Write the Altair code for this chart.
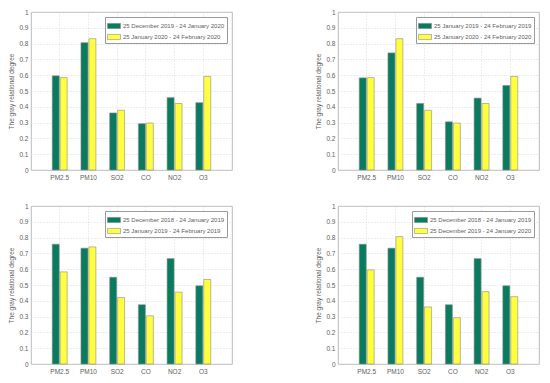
import altair as alt
import pandas as pd

pollutants = ["PM2.5", "PM10", "SO2", "CO", "NO2", "O3"]

p_dec18_jan19 = "25 December 2018 - 24 January 2019"
p_jan19_feb19 = "25 January 2019 - 24 February 2019"
p_dec19_jan20 = "25 December 2019 - 24 January 2020"
p_jan20_feb20 = "25 January 2020 - 24 February 2020"

dec18_jan19 = [0.758, 0.733, 0.549, 0.375, 0.667, 0.495]
jan19_feb19 = [0.583, 0.741, 0.421, 0.305, 0.455, 0.535]
dec19_jan20 = [0.596, 0.806, 0.361, 0.293, 0.458, 0.426]
jan20_feb20 = [0.585, 0.831, 0.378, 0.297, 0.421, 0.592]

y_ticks = [0, 0.1, 0.2, 0.3, 0.4, 0.5, 0.6, 0.7, 0.8, 0.9, 1]

GREEN = "#0a7b5f"
YELLOW = "#ffff40"
TEXT = "#5e5e5e"
GRID = "#d2d2d2"
FONT = "Liberation Sans"

W, H = 201, 158


def panel(s1, v1, s2, v2):
    df = pd.DataFrame({
        "pollutant": pollutants * 2,
        "period": [s1] * 6 + [s2] * 6,
        "k": [0] * 6 + [1] * 6,
        "value": v1 + v2,
    })
    return alt.Chart(df).mark_bar(stroke="#8a8a8a", strokeWidth=0.6, opacity=1).encode(
        x=alt.X("pollutant:N", sort=pollutants,
                scale=alt.Scale(paddingInner=0.48, paddingOuter=0.74),
                axis=alt.Axis(title=None, labelAngle=0, grid=True, bandPosition=0.5,
                              ticks=False, domain=False, labelPadding=4,
                              gridColor=GRID, gridDash=[1, 2], gridWidth=0.8)),
        xOffset=alt.XOffset("k:O", scale=alt.Scale(paddingInner=0.12, paddingOuter=0)),
        y=alt.Y("value:Q", scale=alt.Scale(domain=[0, 1], nice=False),
                axis=alt.Axis(values=y_ticks, format=".1~f", title="The gray relational degree",
                              ticks=False, domain=False, labelPadding=3, titlePadding=4,
                              gridColor=GRID, gridDash=[1, 2], gridWidth=0.8)),
        color=alt.Color("period:N",
                        scale=alt.Scale(domain=[s1, s2], range=[GREEN, YELLOW]),
                        sort=[s1, s2],
                        legend=alt.Legend(title=None, orient="top-right", offset=5,
                                          strokeColor="#9a9a9a", fillColor="white",
                                          padding=2, rowPadding=0,
                                          symbolType="M-1,-0.4H1V0.4H-1Z", symbolSize=169,
                                          symbolStrokeColor="#8a8a8a", symbolStrokeWidth=0.6,
                                          symbolOpacity=1, labelFontSize=6, labelColor=TEXT,
                                          labelOffset=2, labelFont=FONT, labelLimit=200)),
    ).properties(width=W, height=H)


c1 = panel(p_dec19_jan20, dec19_jan20, p_jan20_feb20, jan20_feb20)
c2 = panel(p_jan19_feb19, jan19_feb19, p_jan20_feb20, jan20_feb20)
c3 = panel(p_dec18_jan19, dec18_jan19, p_jan19_feb19, jan19_feb19)
c4 = panel(p_dec18_jan19, dec18_jan19, p_dec19_jan20, dec19_jan20)

top = alt.hconcat(c1, c2, spacing=82).resolve_scale(color="independent")
bottom = alt.hconcat(c3, c4, spacing=82).resolve_scale(color="independent")

chart = alt.vconcat(top, bottom, spacing=21).resolve_scale(color="independent").configure(
    font=FONT, background="white"
).configure_view(
    stroke="#aaaaaa", strokeWidth=0.8
).configure_axis(
    labelFontSize=6.5, labelColor=TEXT, titleFontSize=6.5, titleColor=TEXT,
    titleFontWeight="normal", labelFont=FONT, titleFont=FONT
).properties(padding=0)

chart.save("out.html", embed_options={"renderer": "svg", "actions": False})
